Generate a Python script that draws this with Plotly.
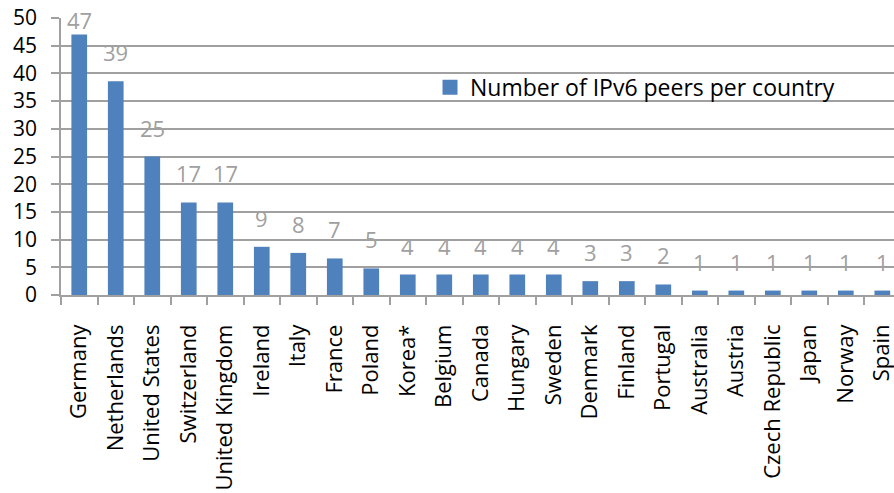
import plotly.graph_objects as go

countries = ["Germany", "Netherlands", "United States", "Switzerland", "United Kingdom",
             "Ireland", "Italy", "France", "Poland", "Korea*", "Belgium", "Canada",
             "Hungary", "Sweden", "Denmark", "Finland", "Portugal", "Australia",
             "Austria", "Czech Republic", "Japan", "Norway", "Spain"]
bar_values = [47.0, 38.6, 25.0, 16.7, 16.7, 8.7, 7.6, 6.6, 4.8, 3.7, 3.7, 3.7,
              3.7, 3.7, 2.5, 2.5, 1.9, 0.8, 0.8, 0.8, 0.8, 0.8, 0.8]
label_values = [47, 39, 25, 17, 17, 9, 8, 7, 5, 4, 4, 4, 4, 4, 3, 3, 2, 1, 1, 1, 1, 1, 1]
y_ticks = [0, 5, 10, 15, 20, 25, 30, 35, 40, 45, 50]
series_name = "Number of IPv6 peers per country"

FONT = "Open Sans"
BAR = "#4F81BD"
GRID = "#A0A0A0"
LABEL = "#A0A0A0"

plot_h = 277.0
px_per_unit = plot_h / 50.0

fig = go.Figure()
fig.add_trace(go.Bar(
    x=countries, y=bar_values, name=series_name, showlegend=False,
    marker=dict(color=BAR, line=dict(width=0)), width=0.43,
))
# legend entry with a larger square swatch
fig.add_trace(go.Scatter(
    x=[None], y=[None], mode="markers", name=series_name, showlegend=True,
    marker=dict(symbol="square", size=15, color=BAR),
))

for c, v, lab in zip(countries, bar_values, label_values):
    shift = min(12.0, 258.0 - v * px_per_unit)
    fig.add_annotation(x=c, y=v, text=str(lab), showarrow=False, yanchor="bottom",
                       yshift=shift, font=dict(family=FONT, size=22, color=LABEL))

fig.update_layout(
    width=894, height=493,
    margin=dict(l=61, r=0, t=18, b=198),
    paper_bgcolor="white", plot_bgcolor="white",
    font=dict(family=FONT, size=22, color="black"),
    showlegend=True,
    legend=dict(x=0.443, y=0.75, xanchor="left", yanchor="middle",
                bgcolor="rgba(0,0,0,0)", font=dict(family=FONT, size=23, color="black")),
    xaxis=dict(range=[-0.5, 22.32], showline=True, linecolor=GRID, linewidth=1.5,
               ticks="outside", tickson="boundaries", ticklen=8, tickcolor=GRID,
               tickwidth=1.5, tickangle=-90, ticklabelstandoff=19, automargin=False,
               tickfont=dict(family=FONT, size=22, color="black"), showgrid=False),
    yaxis=dict(range=[0, 50], tickvals=y_ticks, showline=True, linecolor=GRID,
               linewidth=1.5, ticks="outside", ticklen=8, tickcolor=GRID, tickwidth=1.5,
               showgrid=True, gridcolor=GRID, gridwidth=1.5, zeroline=False,
               ticklabelstandoff=10, automargin=False,
               tickfont=dict(family=FONT, size=21, color="black")),
)

fig.write_html("out.html", config={"displayModeBar": False},
               post_script="document.body.style.margin='0';document.body.style.overflow='hidden';")
